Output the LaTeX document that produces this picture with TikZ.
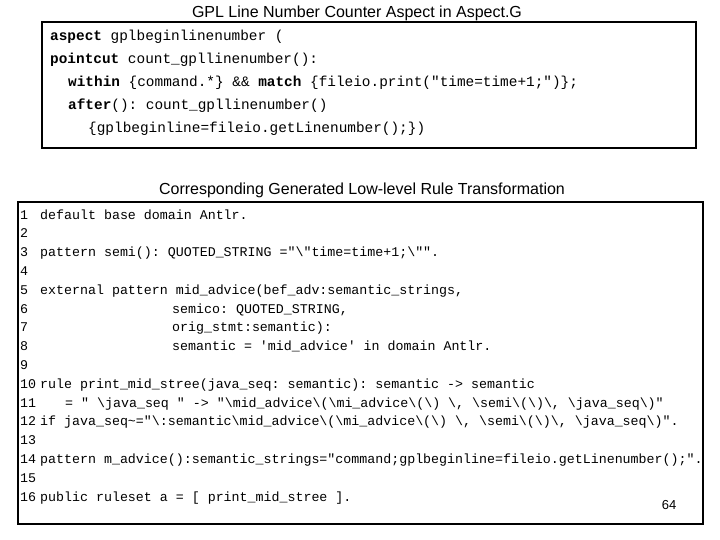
\documentclass[tikz,border=0pt]{standalone}
\usepackage{fontspec}
\setmainfont{Liberation Sans}
\setmonofont{Liberation Mono}
\begin{document}
\begin{tikzpicture}[x=1pt,y=-1pt,
  title/.style={font=\fontsize{16}{18}\selectfont,anchor=base},
  top/.style={font=\ttfamily\fontsize{14.4}{16}\selectfont,anchor=base west,inner sep=0},
  code/.style={font=\ttfamily\fontsize{13.3}{15}\selectfont,anchor=base west,inner sep=0},
  box/.style={draw=black,line width=1.6pt}]
\useasboundingbox (0,0) rectangle (720,540);
\node[title] (t1) at (357,18) {GPL Line Number Counter Aspect in Aspect.G};
\draw[box] (42,22) rectangle (696,148);
\node[top] (a1) at (50,41) {\textbf{aspect} gplbeginlinenumber (};
\node[top] (a2) at (50,64) {\textbf{pointcut} count\_gpllinenumber():};
\node[top] (a3) at (68,87) {\textbf{within} \{command.*\} \&\& \textbf{match} \{fileio.print("time=time+1;")\};};
\node[top] (a4) at (68,110) {\textbf{after}(): count\_gpllinenumber()};
\node[top] (a5) at (88,133) {\{gplbeginline=fileio.getLinenumber();\})};
\node[title] (t2) at (362,195) {Corresponding Generated Low-level Rule Transformation};
\draw[box] (18,202) rectangle (703,524);
\foreach \i in {1,...,16} { \node[code] (n\i) at (20,{219+18.8*(\i-1)}) {\i}; }
\node[code] (c1) at (40,219) {default base domain Antlr.};
\node[code] (c3) at (40,256.6) {pattern semi(): QUOTED\_STRING ="\textbackslash"time=time+1;\textbackslash"".};
\node[code] (c5) at (40,294.2) {external pattern mid\_advice(bef\_adv:semantic\_strings,};
\node[code] (c6) at (172,313) {semico: QUOTED\_STRING,};
\node[code] (c7) at (172,331.8) {orig\_stmt:semantic):};
\node[code] (c8) at (172,350.6) {semantic = 'mid\_advice' in domain Antlr.};
\node[code] (c10) at (40,388.2) {rule print\_mid\_stree(java\_seq: semantic): semantic -> semantic};
\node[code] (c11) at (65,407) {= " \textbackslash java\_seq " -> "\textbackslash mid\_advice\textbackslash(\textbackslash mi\_advice\textbackslash(\textbackslash) \textbackslash, \textbackslash semi\textbackslash(\textbackslash)\textbackslash, \textbackslash java\_seq\textbackslash)"};
\node[code] (c12) at (40,425.8) {if java\_seq\textasciitilde="\textbackslash:semantic\textbackslash mid\_advice\textbackslash(\textbackslash mi\_advice\textbackslash(\textbackslash) \textbackslash, \textbackslash semi\textbackslash(\textbackslash)\textbackslash, \textbackslash java\_seq\textbackslash)".};
\node[code] (c14) at (40,463.4) {pattern m\_advice():semantic\_strings="command;gplbeginline=fileio.getLinenumber();".};
\node[code] (c16) at (40,501) {public ruleset a = [ print\_mid\_stree ].};
\node[font=\fontsize{13}{15}\selectfont,anchor=base] (pg) at (669,509) {64};
\end{tikzpicture}
\end{document}
